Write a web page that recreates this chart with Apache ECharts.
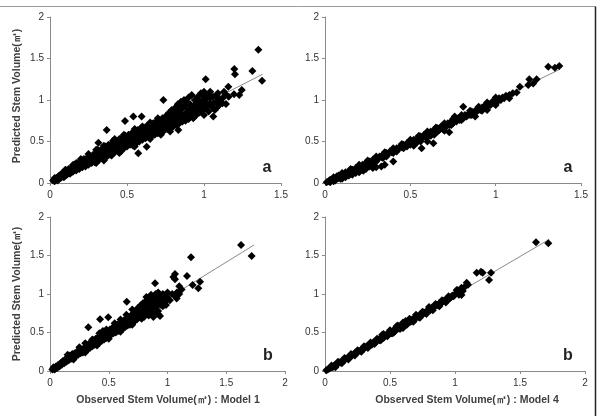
<!DOCTYPE html>
<html><head><meta charset="utf-8">
<script src="https://cdn.jsdelivr.net/npm/echarts@6/dist/echarts.min.js"></script>
<style>html,body{margin:0;padding:0;background:#fff}#c{width:601px;height:416px}</style>
</head><body><div id="c"></div><script>
// ---- Data ----
const yTicks = [0, 0.5, 1, 1.5, 2];
const xTicksTop = [0, 0.5, 1, 1.5];
const xTicksBottom = [0, 0.5, 1, 1.5, 2];
const panelLetters = ['a', 'a', 'b', 'b'];
const yTitle = 'Predicted Stem Volume(㎥)';
const xTitles = ['Observed Stem Volume(㎥) : Model 1', 'Observed Stem Volume(㎥) : Model 4'];

const model1a = [
[0.02,0.03],[0.03,0.02],[0.03,0.06],[0.04,0.04],[0.05,0.03],[0.05,0.07],[0.06,0.05],[0.06,0.09],[0.07,0.06],[0.07,0.1],[0.08,0.08],[0.08,0.12],[0.09,0.07],[0.09,0.11],[0.1,0.09],[0.1,0.13],
[0.11,0.1],[0.11,0.15],[0.12,0.12],[0.12,0.17],[0.13,0.11],[0.13,0.15],[0.14,0.13],[0.14,0.19],[0.15,0.14],[0.15,0.18],[0.16,0.16],[0.16,0.21],[0.17,0.15],[0.17,0.24],[0.18,0.18],[0.18,0.22],[0.19,0.17],[0.19,0.25],[0.2,0.2],[0.2,0.24],
[0.21,0.19],[0.21,0.27],[0.22,0.22],[0.22,0.29],[0.23,0.2],[0.23,0.26],[0.24,0.24],[0.24,0.3],[0.25,0.22],[0.25,0.28],[0.26,0.26],[0.26,0.32],[0.27,0.24],[0.27,0.3],[0.28,0.28],[0.28,0.34],[0.29,0.25],[0.29,0.31],[0.3,0.29],[0.3,0.36],[0.3,0.24],
[0.31,0.33],[0.31,0.4],[0.32,0.28],[0.32,0.36],[0.33,0.31],[0.33,0.39],[0.34,0.34],[0.34,0.42],[0.35,0.3],[0.35,0.37],[0.36,0.35],[0.36,0.44],[0.37,0.32],[0.37,0.4],[0.38,0.38],[0.38,0.46],[0.39,0.34],[0.39,0.42],[0.4,0.39],[0.4,0.47],[0.4,0.33],
[0.41,0.44],[0.41,0.51],[0.42,0.37],[0.42,0.45],[0.43,0.42],[0.43,0.5],[0.44,0.4],[0.44,0.47],[0.45,0.44],[0.45,0.53],[0.46,0.38],[0.46,0.48],[0.47,0.45],[0.47,0.55],[0.48,0.42],[0.48,0.5],[0.49,0.47],[0.49,0.57],[0.5,0.44],[0.5,0.52],
[0.51,0.49],[0.51,0.58],[0.52,0.46],[0.52,0.54],[0.53,0.51],[0.53,0.6],[0.54,0.45],[0.54,0.55],[0.55,0.52],[0.55,0.62],[0.56,0.48],[0.56,0.57],[0.57,0.54],[0.57,0.64],[0.58,0.5],[0.58,0.59],[0.59,0.56],[0.59,0.66],[0.6,0.52],[0.6,0.6],
[0.61,0.57],[0.61,0.67],[0.62,0.54],[0.62,0.62],[0.63,0.59],[0.63,0.69],[0.64,0.55],[0.64,0.64],[0.65,0.6],[0.65,0.7],[0.66,0.57],[0.66,0.66],[0.67,0.62],[0.67,0.72],[0.68,0.58],[0.68,0.67],[0.69,0.64],[0.69,0.74],[0.7,0.6],[0.7,0.69],
[0.71,0.65],[0.71,0.76],[0.72,0.62],[0.72,0.71],[0.73,0.67],[0.73,0.78],[0.74,0.63],[0.74,0.73],[0.75,0.68],[0.75,0.8],[0.76,0.65],[0.76,0.74],[0.77,0.7],[0.77,0.84],[0.78,0.66],[0.78,0.76],[0.79,0.72],[0.79,0.88],[0.8,0.68],[0.8,0.8],
[0.81,0.73],[0.81,0.9],[0.82,0.7],[0.82,0.84],[0.83,0.76],[0.83,0.95],[0.84,0.72],[0.84,0.87],[0.85,0.78],[0.85,0.98],[0.86,0.74],[0.86,0.9],[0.87,0.8],[0.87,1.0],[0.88,0.75],[0.88,0.93],[0.89,0.82],[0.89,0.97],[0.9,0.77],[0.9,0.88],[0.9,1.03],
[0.91,0.8],[0.91,0.95],[0.92,0.85],[0.92,1.06],[0.93,0.78],[0.93,0.92],[0.94,0.88],[0.94,1.0],[0.95,0.82],[0.95,0.96],[0.96,0.9],[0.96,1.04],[0.97,0.85],[0.97,0.98],[0.98,0.92],[0.98,1.08],[0.99,0.88],[0.99,1.0],[1.0,0.82],[1.0,1.05],
[1.01,0.9],[1.02,1.02],[1.03,0.86],[1.04,0.96],[1.04,1.1],[1.05,0.92],[1.06,1.04],[1.07,0.88],[1.08,0.98],[1.09,1.08],[1.1,0.94],[1.12,1.02],[1.14,1.07],
[0.04,0.06],[0.06,0.07],[0.08,0.1],[0.1,0.11],[0.12,0.14],[0.14,0.16],[0.16,0.18],[0.18,0.2],[0.2,0.22],[0.22,0.25],[0.24,0.27],[0.26,0.29],[0.28,0.31],[0.3,0.32],[0.32,0.32],[0.34,0.38],[0.36,0.39],[0.38,0.42],[0.4,0.43],[0.42,0.41],
[0.44,0.44],[0.46,0.43],[0.48,0.46],[0.5,0.48],[0.52,0.5],[0.54,0.5],[0.56,0.53],[0.58,0.55],[0.6,0.56],[0.62,0.58],[0.64,0.6],[0.66,0.61],[0.68,0.63],[0.7,0.65],[0.72,0.67],[0.74,0.68],[0.76,0.7],[0.78,0.71],[0.8,0.74],[0.82,0.77],
[0.84,0.8],[0.86,0.82],[0.88,0.84],[0.9,0.83],[0.92,0.89],[0.94,0.93],[0.96,0.97],[0.98,0.95],[1.0,0.98],[1.02,0.94],[1.04,1.03],[1.06,0.96],[1.08,1.05],[1.1,1.01],[1.0,1.1],[1.03,1.07],[0.98,0.86],[0.95,0.89],[1.08,0.9],[1.12,0.96],
[1.13,1.1],[1.16,1.04],[0.85,0.93],[0.88,0.98],[0.83,0.88],[0.79,0.82],[0.76,0.79],
[0.3,0.4],[0.35,0.45],[0.42,0.53],[0.48,0.58],[0.55,0.65],[0.6,0.68],[0.65,0.73],[0.7,0.78],[0.25,0.35],[0.2,0.29],[0.15,0.22],[0.1,0.16],
[0.35,0.27],[0.45,0.36],[0.55,0.44],[0.65,0.53],[0.72,0.58],[0.78,0.62],
[1.353,1.606],[1.377,1.233],[1.314,1.349],[1.197,1.373],[1.201,1.31],[1.011,1.249],[1.143,0.952],[1.245,1.12],[1.229,1.06],[1.195,1.07],[1.158,1.16],[1.06,0.8],
[0.833,0.64],[0.736,1.0],[0.573,0.358],[0.628,0.437],[0.368,0.64],[0.487,0.747],[0.541,0.8],[0.595,0.8],[0.314,0.486]
];
const model4a = [
[0.01,0.01],[0.02,0.02],[0.03,0.01],[0.03,0.04],[0.04,0.03],[0.05,0.05],[0.05,0.02],[0.06,0.06],[0.07,0.05],[0.07,0.08],[0.08,0.06],[0.08,0.09],[0.09,0.08],[0.1,0.07],[0.1,0.11],[0.1,0.05],[0.11,0.1],[0.12,0.09],[0.12,0.13],[0.13,0.11],[0.14,0.14],[0.14,0.1],[0.14,0.09],[0.15,0.13],[0.16,0.16],[0.16,0.12],[0.17,0.15],[0.18,0.18],[0.18,0.14],[0.18,0.12],[0.19,0.17],[0.2,0.2],[0.2,0.16],[0.21,0.19],[0.22,0.22],[0.22,0.18],[0.22,0.16],[0.23,0.21],[0.24,0.24],[0.24,0.2],[0.25,0.23],[0.26,0.26],[0.26,0.2],[0.27,0.25],[0.28,0.28],[0.28,0.24],[0.29,0.27],[0.3,0.3],[0.31,0.29],[0.32,0.32],[0.33,0.31],[0.34,0.34],[0.34,0.3],[0.35,0.33],[0.36,0.36],[0.37,0.35],[0.38,0.38],[0.39,0.37],[0.4,0.4],[0.4,0.36],[0.41,0.39],[0.42,0.42],[0.43,0.41],[0.44,0.44],[0.45,0.43],[0.46,0.46],[0.46,0.42],[0.47,0.45],[0.48,0.48],[0.49,0.47],[0.5,0.5],[0.5,0.46],[0.51,0.49],[0.52,0.52],[0.53,0.5],[0.54,0.54],[0.55,0.52],[0.56,0.56],[0.56,0.5],[0.57,0.54],[0.58,0.58],[0.59,0.56],[0.6,0.6],[0.6,0.55],[0.61,0.58],[0.62,0.62],[0.63,0.6],[0.64,0.64],[0.64,0.58],[0.65,0.62],[0.66,0.66],[0.67,0.64],[0.68,0.68],[0.69,0.65],[0.7,0.7],[0.71,0.68],[0.72,0.72],[0.73,0.7],[0.74,0.74],[0.75,0.72],[0.76,0.75],[0.77,0.74],[0.78,0.78],[0.79,0.76],[0.8,0.79],[0.81,0.78],[0.82,0.82],[0.83,0.8],[0.84,0.83],[0.85,0.82],[0.86,0.86],[0.87,0.84],[0.88,0.87],[0.89,0.86],[0.9,0.9],[0.91,0.88],[0.92,0.91],[0.93,0.9],[0.94,0.94],[0.95,0.92],[0.96,0.95],[0.97,0.94],[0.98,0.98],[0.99,0.96],[1.0,1.0],[1.01,0.98],[1.02,1.02],[1.03,1.0],[1.04,1.03],[1.05,1.02],[1.06,1.05],[1.08,1.06],[1.1,1.08],
[0.06,0.03],[0.09,0.05],[0.12,0.07],[0.16,0.1],[0.2,0.13],[0.24,0.17],[0.3,0.26],[0.36,0.32],[0.42,0.38],[0.48,0.44],[0.54,0.49],[0.62,0.57],[0.66,0.62],[0.7,0.66],[0.74,0.7],[0.8,0.76],[0.86,0.82],[0.92,0.87],
[0.05,0.07],[0.1,0.12],[0.15,0.17],[0.2,0.22],[0.25,0.27],[0.3,0.32],[0.35,0.37],[0.4,0.42],[0.45,0.47],[0.5,0.52],[0.55,0.57],[0.6,0.62],[0.65,0.67],[0.7,0.72],[0.75,0.77],[0.8,0.82],[0.85,0.87],[0.9,0.92],[0.95,0.97],[1.0,1.03],
[0.2,0.14],[0.225,0.148],[0.28,0.18],[0.3,0.19],[0.33,0.2],[0.35,0.22],[0.4,0.26],[0.52,0.45],[0.566,0.418],[0.6,0.5],[0.635,0.478],[0.7,0.63],[0.728,0.61],[0.81,0.92],[0.76,0.8],[0.88,0.8],[0.95,0.88],[1.0,0.94],[1.08,1.02],[1.123,1.09],[1.142,1.16],[1.191,1.18],[1.197,1.249],[1.24,1.249],[1.22,1.2],[1.308,1.40],[1.347,1.389],[1.373,1.41]
];
const model1b = [
[0.02,0.02],[0.03,0.05],[0.04,0.02],[0.05,0.06],[0.06,0.04],[0.07,0.08],[0.08,0.06],[0.09,0.1],[0.1,0.08],[0.11,0.13],[0.12,0.1],[0.13,0.15],[0.14,0.12],[0.15,0.18],[0.16,0.14],[0.17,0.2],[0.18,0.16],[0.19,0.22],[0.2,0.18],[0.21,0.23],[0.22,0.19],[0.23,0.25],[0.24,0.21],[0.25,0.27],[0.26,0.23],[0.27,0.28],[0.28,0.24],[0.29,0.3],[0.3,0.26],[0.31,0.32],[0.32,0.28],[0.33,0.35],[0.34,0.3],[0.35,0.37],[0.36,0.32],[0.37,0.4],[0.38,0.34],[0.39,0.42],[0.4,0.36],[0.41,0.44],[0.42,0.37],[0.43,0.46],[0.44,0.39],[0.45,0.48],[0.46,0.41],[0.47,0.5],[0.48,0.43],[0.49,0.52],[0.5,0.45],[0.51,0.54],[0.52,0.47],[0.53,0.56],[0.54,0.49],[0.55,0.58],[0.56,0.5],[0.57,0.6],[0.58,0.52],[0.59,0.62],[0.6,0.54],[0.61,0.64],[0.62,0.55],[0.63,0.66],[0.64,0.57],[0.65,0.68],[0.66,0.59],[0.67,0.7],[0.68,0.6],[0.69,0.72],[0.7,0.62],[0.71,0.75],
[0.1,0.11],[0.2,0.21],[0.3,0.29],[0.35,0.33],[0.4,0.4],[0.45,0.44],[0.5,0.5],[0.55,0.53],[0.6,0.59],[0.65,0.62],
[0.72,0.65],[0.73,0.78],[0.74,0.67],[0.75,0.82],[0.76,0.7],[0.77,0.85],[0.78,0.72],[0.79,0.88],[0.8,0.74],[0.81,0.9],[0.82,0.76],[0.83,0.93],[0.84,0.78],[0.85,0.96],[0.86,0.8],[0.87,0.92],[0.88,0.75],[0.89,0.98],[0.9,0.82],[0.91,0.94],[0.92,0.78],[0.93,1.0],[0.94,0.86],[0.95,0.96],[0.96,0.84],[0.97,0.98],[0.98,0.9],[1.0,0.95],[1.02,0.92],[1.04,1.0],[1.06,0.98],[1.08,1.02],[1.1,1.0],[0.8,0.82],[0.85,0.88],[0.9,0.9],[0.75,0.74],[0.7,0.7],[0.88,0.95],[0.92,1.02],
[0.03,0.03],[0.05,0.04],[0.07,0.06],[0.09,0.08],[0.11,0.11],[0.13,0.13],[0.15,0.15],[0.17,0.17],[0.19,0.19],[0.21,0.2],[0.23,0.22],[0.25,0.24],[0.27,0.26],[0.29,0.28],[0.31,0.3],[0.33,0.32],[0.35,0.34],[0.37,0.36],[0.39,0.38],[0.41,0.4],
[0.43,0.42],[0.45,0.45],[0.47,0.46],[0.49,0.48],[0.51,0.5],[0.53,0.52],[0.55,0.55],[0.57,0.56],[0.59,0.58],[0.61,0.6],[0.63,0.62],[0.65,0.64],[0.67,0.66],[0.69,0.68],[0.71,0.69],[0.73,0.72],[0.75,0.76],[0.77,0.78],[0.79,0.8],[0.81,0.84],
[0.83,0.86],[0.85,0.84],[0.87,0.86],[0.89,0.88],[0.91,0.86],[0.93,0.92],[0.95,0.91],[0.97,0.93],[0.99,0.97],[0.82,0.96],[0.86,0.99],[0.9,1.0],[0.84,0.72],[0.88,0.7],[0.92,0.74],[0.8,0.7],[0.78,0.68],[0.96,1.0],[1.0,1.02],[0.42,0.49],[0.48,0.54],[0.36,0.41],
[0.15,0.21],[0.25,0.31],[0.3,0.36],[0.45,0.52],[0.55,0.62],[0.6,0.67],[0.65,0.73],[0.7,0.8],[0.2,0.15],[0.3,0.24],[0.4,0.33],[0.5,0.42],[0.6,0.51],[0.7,0.6],
[0.326,0.567],[0.426,0.671],[0.496,0.697],[0.653,0.9],[0.894,1.139],[0.936,0.714],[0.987,0.857],[1.064,1.26],[1.064,1.19],[1.05,1.22],[1.166,1.234],[1.2,1.476],[1.214,1.117],[1.262,1.074],[1.277,1.16],[1.626,1.636],[1.716,1.494],[1.12,1.06],[1.1,1.1],[1.09,1.01],[1.078,0.94]
];
const model4b = [
[0.01,0.01],[0.02,0.02],[0.03,0.03],[0.04,0.04],[0.05,0.05],[0.06,0.05],[0.07,0.07],[0.08,0.08],[0.09,0.08],[0.1,0.1],[0.11,0.11],[0.12,0.11],[0.13,0.13],[0.14,0.14],[0.15,0.14],[0.16,0.16],[0.17,0.17],[0.18,0.17],[0.19,0.19],[0.2,0.2],
[0.21,0.2],[0.22,0.22],[0.23,0.23],[0.24,0.23],[0.25,0.25],[0.26,0.26],[0.27,0.26],[0.28,0.28],[0.29,0.29],[0.3,0.29],[0.31,0.31],[0.32,0.32],[0.33,0.32],[0.34,0.34],[0.35,0.35],[0.36,0.34],[0.37,0.37],[0.38,0.38],[0.39,0.37],[0.4,0.4],
[0.41,0.41],[0.42,0.4],[0.43,0.43],[0.44,0.44],[0.45,0.43],[0.46,0.46],[0.47,0.47],[0.48,0.46],[0.49,0.49],[0.5,0.5],[0.51,0.49],[0.52,0.52],[0.53,0.53],[0.54,0.52],[0.55,0.55],[0.56,0.56],[0.57,0.55],[0.58,0.58],[0.59,0.59],[0.6,0.58],
[0.61,0.61],[0.62,0.62],[0.63,0.61],[0.64,0.64],[0.65,0.65],[0.66,0.64],[0.67,0.67],[0.68,0.68],[0.69,0.67],[0.7,0.7],[0.71,0.71],[0.72,0.7],[0.73,0.73],[0.74,0.74],[0.75,0.73],[0.76,0.76],[0.77,0.76],[0.78,0.77],[0.79,0.79],[0.8,0.8],
[0.81,0.79],[0.82,0.82],[0.83,0.82],[0.84,0.83],[0.85,0.85],[0.86,0.86],[0.87,0.85],[0.88,0.88],[0.89,0.88],[0.9,0.89],[0.91,0.91],[0.92,0.92],[0.93,0.91],[0.94,0.93],[0.95,0.95],[0.96,0.94],[0.97,0.96],[0.98,0.98],[0.99,0.97],
[0.44,0.47],[0.5,0.53],[0.56,0.59],[0.62,0.65],[0.52,0.49],[0.6,0.56],[0.68,0.65],
[0.05,0.07],[0.1,0.12],[0.15,0.17],[0.2,0.22],[0.25,0.27],[0.3,0.32],[0.35,0.37],[0.4,0.42],[0.45,0.48],[0.5,0.52],[0.55,0.58],[0.6,0.63],[0.65,0.68],[0.7,0.73],[0.75,0.77],[0.8,0.83],[0.85,0.87],[0.9,0.92],[0.95,0.97],
[0.08,0.05],[0.13,0.1],[0.18,0.15],[0.23,0.2],[0.28,0.25],[0.33,0.3],[0.38,0.35],[0.43,0.4],[0.48,0.45],[0.53,0.5],[0.58,0.55],[0.63,0.6],[0.68,0.64],[0.73,0.69],[0.78,0.74],[0.83,0.79],[0.88,0.84],[0.93,0.89],
[1.0,1.0],[1.02,1.05],[1.03,0.99],[1.05,1.08],[1.06,1.04],[1.08,1.1],[1.09,1.147],[1.1,1.12],[1.013,1.052],[1.05,0.987],
[1.167,1.277],[1.213,1.277],[1.2,1.29],[1.277,1.277],[1.262,1.182],[1.623,1.671],[1.718,1.658]
];
// trend line end points
const trend1a = [[0.0,0.0],[1.38,1.31]];
const trend4a = [[0.0,0.0],[1.377,1.37]];
const trend1b = [[0.0,0.0],[1.736,1.636]];
const trend4b = [[0.0,0.0],[1.725,1.71]];

// ---- Chart ----
const panels = [
  {pts: model1a, tr: trend1a, xt: xTicksTop, grid:{left:50, top:17, width:231, height:166}},
  {pts: model4a, tr: trend4a, xt: xTicksTop, grid:{left:325, top:17, width:256, height:166}},
  {pts: model1b, tr: trend1b, xt: xTicksBottom, grid:{left:50, top:217, width:235, height:154}},
  {pts: model4b, tr: trend4b, xt: xTicksBottom, grid:{left:325, top:217, width:260, height:154}}
];
const axisCol = '#8a8a8a';
const font = 'Liberation Sans';
function axis(gi, ticks, isX){
  return {
    type:'value', gridIndex:gi, min:ticks[0], max:ticks[ticks.length-1], interval:ticks[1]-ticks[0],
    axisLine:{show:true, onZero:false, lineStyle:{color:axisCol, width:1}},
    axisTick:{show:true, length:3, lineStyle:{color:axisCol}},
    splitLine:{show:false},
    axisLabel:{color:'#333', fontSize:10, fontFamily:font, margin: isX ? 7 : 6}
  };
}
const option = {
  animation:false,
  backgroundColor:'#fff',
  grid: panels.map(p => Object.assign({containLabel:false}, p.grid)),
  xAxis: panels.map((p,i) => axis(i, p.xt, true)),
  yAxis: panels.map((p,i) => axis(i, yTicks, false)),
  series: [].concat(...panels.map((p,i) => [
    {type:'line', xAxisIndex:i, yAxisIndex:i, data:p.tr, symbol:'none', z:1,
     lineStyle:{color:'#8a8a8a', width:1}},
    {type:'scatter', xAxisIndex:i, yAxisIndex:i, data:p.pts, symbol:'diamond', symbolSize:8, z:2,
     itemStyle:{color:'#000', opacity:1}}
  ])),
  graphic: [
    {type:'line', shape:{x1:0,y1:6.5,x2:595.5,y2:6.5}, style:{stroke:'#9a9a9a', lineWidth:1}},
    {type:'line', shape:{x1:595.5,y1:6.5,x2:595.5,y2:416}, style:{stroke:'#222', lineWidth:1.5}},
    {type:'text', x:17, y:96, rotation:Math.PI/2, style:{text:yTitle, textAlign:'center', textVerticalAlign:'middle', fill:'#404040', font:'bold 10.5px "Liberation Sans"'}},
    {type:'text', x:17, y:294, rotation:Math.PI/2, style:{text:yTitle, textAlign:'center', textVerticalAlign:'middle', fill:'#404040', font:'bold 10.5px "Liberation Sans"'}},
    {type:'text', x:168, y:400, style:{text:xTitles[0], textAlign:'center', textVerticalAlign:'middle', fill:'#404040', font:'bold 10.5px "Liberation Sans"'}},
    {type:'text', x:467, y:400, style:{text:xTitles[1], textAlign:'center', textVerticalAlign:'middle', fill:'#404040', font:'bold 10.5px "Liberation Sans"'}},
    {type:'text', x:267, y:168, style:{text:panelLetters[0], textAlign:'center', textVerticalAlign:'middle', fill:'#222', font:'bold 16px "Liberation Sans"'}},
    {type:'text', x:568, y:168, style:{text:panelLetters[1], textAlign:'center', textVerticalAlign:'middle', fill:'#222', font:'bold 16px "Liberation Sans"'}},
    {type:'text', x:268, y:356, style:{text:panelLetters[2], textAlign:'center', textVerticalAlign:'middle', fill:'#222', font:'bold 16px "Liberation Sans"'}},
    {type:'text', x:568, y:356, style:{text:panelLetters[3], textAlign:'center', textVerticalAlign:'middle', fill:'#222', font:'bold 16px "Liberation Sans"'}}
  ]
};
const chart = echarts.init(document.getElementById('c'), null, {renderer:'canvas'});
chart.setOption(option);
</script></body></html>
